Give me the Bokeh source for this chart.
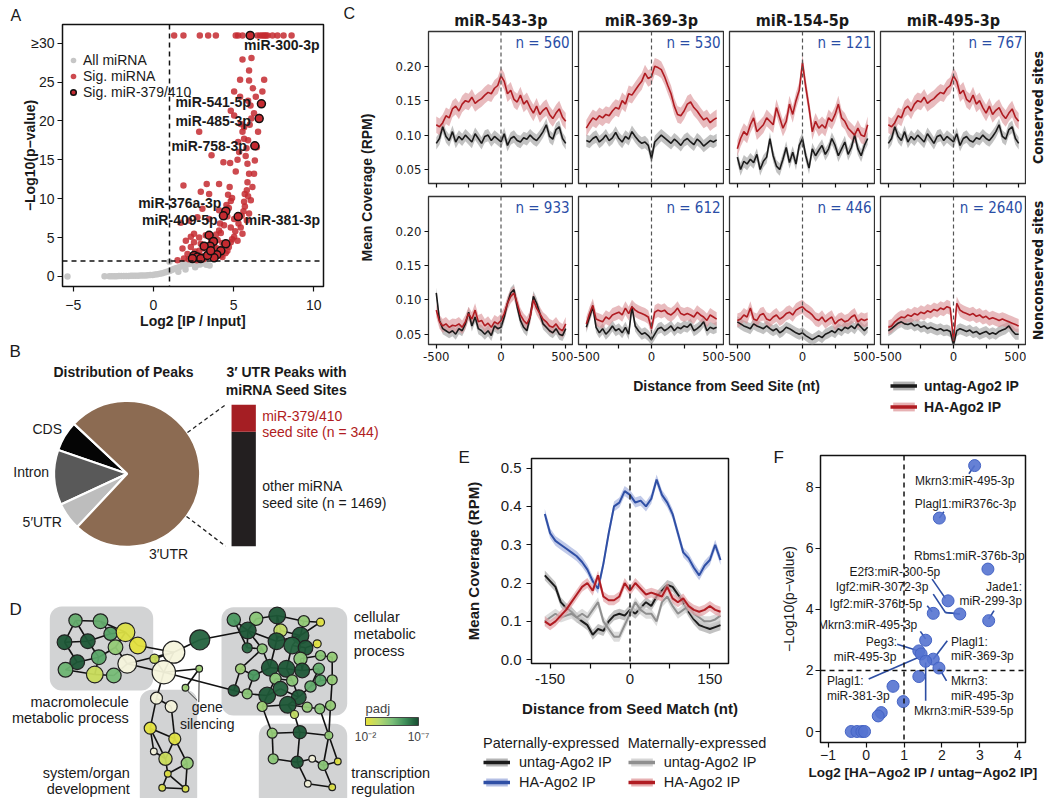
import numpy as np
from bokeh.plotting import figure
from bokeh.models import (Range1d, Label, Span, Legend, LegendItem, ColumnDataSource,
                          BoxAnnotation, LinearColorMapper, ColorBar, FixedTicker,
                          PrintfTickFormatter)
from bokeh.layouts import row, column
from bokeh.embed import file_html
from bokeh.resources import INLINE
from bokeh.core.properties import value

SANS = "Liberation Sans"
NARROW = "'Liberation Sans Narrow', 'DejaVu Sans Condensed', 'Liberation Sans'"
INK = "#1a1a1a"

# ====================== DATA ======================
# --- A: volcano plot ---
ALL_X = [-5.36, -3.05, -2.75, -2.6, -2.45, -2.3, -2.15, -2.0, -1.85, -1.7, -1.55, -1.4, -1.25, -1.1,
         -0.95, -0.8, -0.65, -0.5, -0.35, -0.2, -0.05, 0.1, 0.25, 0.4, 0.55, 0.7, 0.85, 1.0, 1.1, 1.2,
         1.3, 1.45, 1.6, 1.75, 1.9, 2.05, 2.2, 2.35, 2.5, 2.7, 2.9, 3.1, 3.3, 3.5, 1.55, 2.0, 2.6, 3.0,
         1.0, 1.85]
ALL_Y = [0, 0.02, 0.03, 0.03, 0.04, 0.04, 0.05, 0.05, 0.06, 0.06, 0.07, 0.08, 0.08, 0.09,
         0.1, 0.11, 0.12, 0.14, 0.16, 0.18, 0.2, 0.25, 0.3, 0.35, 0.4, 0.5, 0.6, 0.7, 0.8, 0.9,
         1.0, 1.1, 1.2, 1.3, 1.4, 1.5, 1.6, 1.7, 1.6, 1.5, 1.55, 1.7, 1.5, 1.4, 0.6, 0.9, 1.2, 1.8,
         1.9, 1.75]
SIG_X = [1.29, 1.87, 2.89, 3.41, 3.89, 5.13, 5.28, 5.55, 6.48, 6.65, 6.79, 6.90, 7.00, 7.11, 7.42, 7.73, 8.11, 8.61,
         5.55, 6.11, 5.96, 5.40, 5.96, 6.90, 5.03, 5.40, 5.90, 4.82, 5.03, 5.44, 5.65, 5.55, 2.85, 5.65, 5.90, 5.28,
         3.62, 5.34, 5.24, 4.36, 4.78, 5.86, 5.13, 5.96, 1.87, 3.32, 4.09, 5.86, 5.82, 2.95, 3.47, 5.69, 4.82, 5.65,
         3.05, 5.61, 4.09, 2.22, 1.70, 2.74, 3.47, 5.03, 4.82, 4.09, 2.53, 2.33, 2.85, 3.26, 5.03, 2.02, 2.53, 2.95,
         3.47, 4.30, 1.81, 2.33, 2.85, 3.37, 3.99, 4.82, 2.12, 2.95, 3.78, 1.50, 2.43, 3.16, 4.20, 4.61, 5.24, 5.55,
         5.44, 5.82, 5.96, 6.07, 6.17, 6.27, 6.32, 6.44, 6.52, 6.59, 6.65, 6.38, 6.79, 6.27,
         4.3, 4.5, 4.7, 4.9, 5.1, 5.3, 5.5, 5.7, 5.9, 3.6, 3.8, 4.0, 4.2, 4.4, 4.6, 4.7, 4.9, 3.1, 3.3, 3.5,
         2.7, 2.9, 1.9, 2.2, 2.6, 3.1, 3.6, 3.9, 4.15, 4.4, 4.55, 4.65, 4.75, 5.75, 5.8, 6.0, 6.1, 6.2, 6.05]
SIG_Y = [31, 31, 31, 31, 31, 31, 31, 31, 31, 31, 31, 31, 31, 31, 31, 31, 31, 31,
         27.9, 28.1, 26.5, 25.3, 25.2, 25.3, 23.8, 23.1, 22.6, 21.3, 20.7, 19.6, 19.2, 18.6, 18.6, 17.7, 17.5, 17.3,
         15.6, 16.0, 15.0, 14.7, 14.6, 14.5, 13.5, 13.2, 11.7, 11.9, 11.9, 12.1, 11.1, 10.9, 10.6, 10.6, 9.7, 9.6,
         8.7, 8.4, 8.5, 7.2, 6.9, 7.6, 7.4, 7.4, 6.3, 5.9, 5.5, 5.1, 5.0, 5.3, 5.1, 4.6, 4.4, 4.2,
         3.8, 4.3, 3.6, 3.8, 3.3, 2.9, 3.6, 4.4, 2.9, 2.7, 2.9, 2.1, 2.5, 2.3, 2.7, 3.3, 4.6, 5.5,
         6.3, 7.2, 8.1, 9.8, 11.5, 13.2, 14.9, 16.6, 18.6, 20.5, 22.2, 23.1, 23.8, 21.0,
         2.5, 3.0, 3.8, 4.8, 5.8, 6.8, 7.8, 9.0, 10.3, 3.2, 3.9, 4.7, 5.6, 6.6, 7.7, 8.8, 10.1, 2.2, 2.6, 3.0,
         2.1, 2.4, 2.3, 2.2, 3.2, 3.6, 4.6, 5.4, 6.8, 8.0, 9.2, 10.5, 11.5, 15.5, 16.5, 19.5, 20.3, 24.2, 22.0]
FAM_X = [6.03, 6.73, 6.59, 6.32, 4.51, 4.36, 5.28, 3.47, 3.74, 3.53, 3.16, 4.51, 4.20, 3.95, 3.78, 2.53,
         2.74, 2.95, 2.43, 3.37, 3.57]
FAM_Y = [31.0, 22.2, 20.3, 16.8, 8.4, 7.8, 7.7, 5.3, 4.5, 3.9, 3.9, 4.2, 3.3, 2.8, 2.4, 2.7,
         2.5, 2.3, 2.3, 2.7, 3.3]
A_LABELS = ["miR-300-3p", "miR-541-5p", "miR-485-3p", "miR-758-3p", "miR-376a-3p", "miR-409-5p", "miR-381-3p"]
A_LABEL_X = [8.0, 3.72, 3.72, 3.47, 1.64, 1.64, 8.04]
A_LABEL_Y = [29.8, 22.4, 20.0, 16.8, 9.4, 7.3, 7.3]

# --- B: peak distribution ---
PEAK_CATS = ["CDS", "Intron", "5\u2032UTR", "3\u2032UTR"]
PEAK_PCT = [6.7, 12.2, 6.1, 75.0]
PEAK_COLORS = ["#050505", "#595959", "#bdbdbd", "#8c6b52"]
SEED_CATS = ["other miRNA seed site", "miR-379/410 seed site"]
SEED_COUNTS = [1469, 344]
SEED_COLORS = ["#231f20", "#a51e23"]

# --- C: coverage around seed sites ---
C_TITLES = ["miR-543-3p", "miR-369-3p", "miR-154-5p", "miR-495-3p"]
C_N_CONS = [560, 530, 121, 767]
C_N_NONC = [933, 612, 446, 2640]
C_DIST = list(range(-500, 501, 25))
R543_CONS = [0.115, 0.112, 0.118, 0.128, 0.125, 0.138, 0.142, 0.135, 0.145, 0.150, 0.148, 0.155, 0.146, 0.150,
             0.153, 0.158, 0.162, 0.160, 0.168, 0.172, 0.186, 0.178, 0.160, 0.165, 0.152, 0.148, 0.158, 0.145,
             0.150, 0.140, 0.132, 0.142, 0.130, 0.136, 0.140, 0.130, 0.124, 0.132, 0.138, 0.126, 0.120]
K543_CONS = [0.088, 0.095, 0.112, 0.098, 0.092, 0.105, 0.090, 0.098, 0.093, 0.100, 0.095, 0.090, 0.102, 0.095,
             0.088, 0.098, 0.100, 0.092, 0.098, 0.094, 0.090, 0.102, 0.085, 0.095, 0.098, 0.092, 0.090, 0.096,
             0.094, 0.100, 0.095, 0.092, 0.098, 0.105, 0.115, 0.098, 0.094, 0.108, 0.112, 0.095, 0.088]
R369_CONS = [0.110, 0.118, 0.125, 0.122, 0.128, 0.125, 0.130, 0.128, 0.135, 0.140, 0.138, 0.150, 0.145, 0.160,
             0.158, 0.165, 0.172, 0.178, 0.190, 0.182, 0.185, 0.200, 0.198, 0.195, 0.185, 0.172, 0.160, 0.142,
             0.130, 0.128, 0.135, 0.145, 0.148, 0.140, 0.135, 0.128, 0.122, 0.125, 0.118, 0.122, 0.125]
K369_CONS = [0.092, 0.090, 0.095, 0.098, 0.090, 0.094, 0.100, 0.092, 0.096, 0.104, 0.095, 0.090, 0.098, 0.094,
             0.105, 0.098, 0.092, 0.088, 0.090, 0.085, 0.066, 0.090, 0.095, 0.100, 0.096, 0.092, 0.088, 0.094,
             0.090, 0.085, 0.092, 0.095, 0.090, 0.086, 0.094, 0.090, 0.084, 0.088, 0.092, 0.090, 0.093]
R154_CONS = [0.080, 0.095, 0.105, 0.100, 0.115, 0.125, 0.105, 0.110, 0.115, 0.125, 0.120, 0.115, 0.140, 0.125,
             0.110, 0.120, 0.145, 0.130, 0.150, 0.165, 0.205, 0.170, 0.140, 0.105, 0.120, 0.110, 0.115, 0.110,
             0.125, 0.120, 0.130, 0.145, 0.125, 0.120, 0.110, 0.105, 0.100, 0.110, 0.100, 0.098, 0.115]
K154_CONS = [0.068, 0.050, 0.062, 0.058, 0.065, 0.060, 0.072, 0.050, 0.062, 0.068, 0.095, 0.070, 0.055, 0.050,
             0.065, 0.082, 0.060, 0.075, 0.058, 0.085, 0.095, 0.070, 0.052, 0.080, 0.070, 0.078, 0.085, 0.072,
             0.080, 0.095, 0.085, 0.070, 0.080, 0.090, 0.072, 0.082, 0.100, 0.080, 0.070, 0.085, 0.095]
R495_CONS = R543_CONS
K495_CONS = K543_CONS
R543_NONC = [0.085, 0.068, 0.062, 0.065, 0.060, 0.063, 0.062, 0.065, 0.060, 0.068, 0.080, 0.072, 0.085, 0.068,
             0.070, 0.062, 0.066, 0.060, 0.068, 0.065, 0.070, 0.080, 0.095, 0.105, 0.110, 0.095, 0.078, 0.070,
             0.065, 0.075, 0.100, 0.088, 0.080, 0.072, 0.068, 0.062, 0.060, 0.065, 0.058, 0.055, 0.065]
K543_NONC = [0.110, 0.070, 0.058, 0.055, 0.052, 0.055, 0.050, 0.058, 0.055, 0.065, 0.082, 0.062, 0.075, 0.058,
             0.055, 0.050, 0.055, 0.048, 0.062, 0.058, 0.060, 0.075, 0.095, 0.110, 0.115, 0.090, 0.070, 0.060,
             0.055, 0.075, 0.105, 0.095, 0.080, 0.065, 0.060, 0.055, 0.052, 0.058, 0.050, 0.048, 0.058]
R369_NONC = [0.065, 0.080, 0.092, 0.072, 0.070, 0.068, 0.075, 0.072, 0.078, 0.080, 0.082, 0.078, 0.088, 0.080,
             0.090, 0.085, 0.082, 0.080, 0.078, 0.075, 0.058, 0.082, 0.085, 0.083, 0.085, 0.080, 0.078, 0.082,
             0.088, 0.080, 0.078, 0.080, 0.078, 0.075, 0.082, 0.078, 0.075, 0.070, 0.078, 0.075, 0.072]
K369_NONC = [0.060, 0.075, 0.090, 0.060, 0.052, 0.058, 0.050, 0.055, 0.062, 0.055, 0.058, 0.052, 0.060, 0.050,
             0.090, 0.062, 0.055, 0.050, 0.052, 0.048, 0.042, 0.050, 0.058, 0.060, 0.055, 0.058, 0.062, 0.055,
             0.060, 0.058, 0.062, 0.060, 0.065, 0.055, 0.058, 0.062, 0.068, 0.055, 0.060, 0.058, 0.060]
R154_NONC = [0.070, 0.072, 0.078, 0.075, 0.088, 0.072, 0.070, 0.078, 0.080, 0.072, 0.070, 0.075, 0.078, 0.072,
             0.075, 0.080, 0.082, 0.078, 0.085, 0.088, 0.090, 0.085, 0.082, 0.078, 0.072, 0.070, 0.075, 0.068,
             0.072, 0.075, 0.065, 0.070, 0.072, 0.068, 0.070, 0.075, 0.078, 0.068, 0.072, 0.070, 0.072]
K154_NONC = [0.068, 0.065, 0.062, 0.060, 0.058, 0.065, 0.062, 0.060, 0.058, 0.062, 0.058, 0.055, 0.058, 0.052,
             0.055, 0.060, 0.058, 0.055, 0.052, 0.050, 0.052, 0.048, 0.045, 0.042, 0.045, 0.048, 0.045, 0.050,
             0.052, 0.055, 0.052, 0.058, 0.055, 0.060, 0.058, 0.062, 0.058, 0.065, 0.060, 0.055, 0.060]
R495_NONC = [0.060, 0.062, 0.068, 0.072, 0.075, 0.074, 0.078, 0.076, 0.080, 0.078, 0.082, 0.080, 0.084, 0.082,
             0.086, 0.084, 0.088, 0.086, 0.090, 0.088, 0.040, 0.095, 0.085, 0.082, 0.080, 0.078, 0.080, 0.076,
             0.078, 0.074, 0.076, 0.072, 0.074, 0.072, 0.070, 0.072, 0.070, 0.068, 0.066, 0.064, 0.062]
K495_NONC = [0.055, 0.058, 0.062, 0.066, 0.068, 0.065, 0.064, 0.066, 0.062, 0.064, 0.060, 0.062, 0.058, 0.060,
             0.058, 0.056, 0.058, 0.055, 0.056, 0.054, 0.035, 0.055, 0.058, 0.056, 0.054, 0.056, 0.052, 0.054,
             0.050, 0.052, 0.054, 0.050, 0.052, 0.050, 0.054, 0.056, 0.058, 0.062, 0.055, 0.050, 0.050]
C_RED = [[R543_CONS, R369_CONS, R154_CONS, R495_CONS], [R543_NONC, R369_NONC, R154_NONC, R495_NONC]]
C_BLK = [[K543_CONS, K369_CONS, K154_CONS, K495_CONS], [K543_NONC, K369_NONC, K154_NONC, K495_NONC]]
C_SE_RED = [0.012, 0.010]
C_SE_BLK = [0.009, 0.008]

# --- D: GO network ---
D_NX = [75.0, 100.0, 64.0, 87.3, 110.0, 125.0, 137.3, 115.0, 76.7, 98.3, 65.0, 94.3, 113.3, 126.7,
        173.3, 163.3, 154.0, 199.3, 198.7, 185.0,
        156.0, 170.7, 149.7, 174.3, 153.3, 165.0, 186.7, 167.3, 161.7, 185.0,
        233.3, 255.7, 276.7, 303.3, 320.0, 247.3, 280.0, 246.7, 276.0, 300.0, 291.7, 305.0, 316.7, 261.7,
        300.0, 320.0, 331.7, 240.0, 269.3, 286.0, 301.7, 318.3, 253.3, 275.0, 291.7, 320.0, 331.7, 233.3,
        246.7, 266.7, 280.0, 298.3, 310.0, 261.7, 287.3, 306.7, 319.3, 330.0, 294.0,
        271.7, 299.3, 328.3, 272.7, 296.7, 311.7, 322.7, 337.3, 307.3, 331.7]
D_NY = [70.0, 70.7, 91.7, 90.7, 83.3, 81.7, 95.0, 96.7, 111.7, 106.7, 119.3, 124.0, 125.0, 113.3,
        101.7, 121.7, 108.3, 89.3, 118.3, 137.3,
        147.7, 156.0, 177.7, 188.3, 201.0, 208.3, 212.7, 223.3, 237.3, 238.3,
        69.3, 68.3, 65.0, 70.7, 71.7, 80.0, 80.0, 97.3, 90.7, 85.0, 95.0, 97.3, 93.3, 98.3,
        108.3, 105.0, 106.7, 118.3, 117.3, 118.3, 120.0, 118.3, 125.0, 128.3, 130.0, 130.0, 129.3, 140.0,
        143.3, 145.0, 138.3, 146.7, 136.0, 156.0, 154.3, 156.7, 158.3, 155.0, 164.0,
        182.7, 181.7, 185.0, 208.3, 211.7, 208.3, 215.0, 211.0, 233.3, 236.7]
D_SIZE = [13.3, 14.7, 14.7, 14.7, 13.3, 18.7, 16.7, 14.7, 14.7, 14.7, 14.7, 16.7, 14.7, 18.7,
          22, 23.3, 9.3, 20, 6.7, 6.7,
          12, 12, 12, 12, 6.7, 13.3, 12, 6.7, 6.7, 6.7,
          13.3, 13.3, 16.7, 11.3, 8, 16.7, 13.3, 10, 16.7, 16.7, 16.7, 14.7, 8, 10,
          13.3, 10, 10, 10, 16.7, 16.7, 14.7, 11.3, 11.3, 11.3, 11.3, 11.3, 10, 11.3,
          10, 16.7, 14.7, 14.7, 11.3, 10, 16.7, 10, 10, 10, 8,
          10, 13.3, 8, 10, 12, 6.7, 10, 6.7, 6.7, 6.7]
D_NEGLOG_PADJ = [5.0, 5.0, 6.8, 6.8, 5.3, 2.3, 2.1, 4.0, 6.8, 5.2, 4.8, 2.8, 4.6, 1.5,
                 1.4, 1.3, 2.8, 6.6, 3.8, 3.8,
                 1.4, 1.4, 2.1, 2.2, 1.5, 2.8, 4.0, 2.2, 2.3, 2.4,
                 5.5, 4.2, 6.8, 4.0, 2.2, 6.8, 3.0, 6.5, 6.8, 6.8, 6.6, 6.8, 2.2, 4.2,
                 4.2, 4.2, 4.0, 3.8, 6.8, 6.8, 6.8, 5.0, 5.5, 4.2, 4.2, 5.2, 4.0, 6.8,
                 4.2, 6.8, 6.6, 6.8, 5.0, 3.8, 6.8, 4.0, 4.2, 4.0, 3.0,
                 4.0, 6.8, 4.0, 4.2, 6.8, 1.5, 4.2, 2.2, 1.5, 2.3]
D_EDGES = [(1, 2), (1, 3), (2, 5), (3, 4), (3, 9), (4, 10), (4, 5), (9, 11), (9, 10), (10, 12), (11, 12),
           (12, 13), (13, 14), (10, 8), (8, 6), (6, 7), (7, 15), (14, 15), (14, 16), (5, 6), (8, 14), (2, 6),
           (1, 4), (15, 16), (15, 17), (16, 17), (15, 18), (16, 19), (16, 21), (18, 36), (19, 20), (16, 58),
           (21, 22), (21, 23), (22, 24), (23, 24), (23, 25), (23, 26), (24, 26), (24, 27), (25, 26), (26, 28),
           (27, 28), (28, 29), (28, 30), (29, 30), (27, 30),
           (31, 36), (32, 36), (32, 33), (33, 37), (33, 34), (34, 35), (36, 38), (36, 39), (37, 39), (39, 40),
           (40, 41), (41, 42), (42, 43), (40, 35), (38, 44), (44, 49), (39, 49), (41, 50), (42, 51), (45, 46),
           (46, 47), (47, 57), (51, 52), (52, 56), (48, 53), (53, 49), (49, 50), (50, 51), (48, 58), (58, 59),
           (59, 60), (60, 61), (61, 62), (62, 63), (63, 56), (56, 57), (54, 60), (55, 62), (60, 64), (64, 65),
           (65, 66), (66, 67), (67, 68), (68, 57), (65, 69), (62, 65), (53, 59), (54, 55), (44, 48), (45, 51),
           (50, 55), (33, 39), (37, 40), (34, 40), (52, 63), (31, 38), (36, 44),
           (64, 70), (69, 71), (68, 72), (70, 71), (71, 72), (70, 73), (71, 74), (72, 76), (73, 74), (74, 75),
           (75, 76), (76, 77), (74, 78), (76, 79), (78, 79), (72, 77), (67, 72)]
D_BOXES = [(49.3, 152.7, 56.0, 140.0), (221.0, 346.7, 56.7, 165.0),
           (139.3, 196.7, 139.3, 258.0), (258.3, 346.7, 173.3, 258.0)]

# --- E: coverage around seed matches ---
E_DIST = list(range(-160, 171, 10))
E_PAT_UNTAG = [0.22, 0.205, 0.19, 0.15, 0.135, 0.125, 0.11, 0.10, 0.09, 0.065, 0.08, 0.075, 0.10, 0.115,
               0.12, 0.115, 0.13, 0.12, 0.135, 0.15, 0.14, 0.165, 0.18, 0.195, 0.19, 0.17, 0.15, 0.125,
               0.105, 0.09, 0.085, 0.08, 0.085, 0.09]
E_PAT_HA = [0.38, 0.33, 0.31, 0.30, 0.29, 0.28, 0.27, 0.255, 0.235, 0.205, 0.185, 0.25, 0.33, 0.40,
            0.41, 0.44, 0.43, 0.41, 0.415, 0.40, 0.42, 0.47, 0.43, 0.41, 0.38, 0.33, 0.28, 0.265,
            0.24, 0.22, 0.245, 0.26, 0.30, 0.26]
E_MAT_UNTAG = [0.10, 0.11, 0.12, 0.11, 0.115, 0.12, 0.11, 0.12, 0.11, 0.13, 0.15, 0.10, 0.08, 0.06,
               0.06, 0.09, 0.12, 0.15, 0.13, 0.12, 0.12, 0.10, 0.15, 0.165, 0.14, 0.12, 0.13, 0.14,
               0.12, 0.11, 0.10, 0.10, 0.105, 0.115]
E_MAT_HA = [0.10, 0.09, 0.10, 0.115, 0.13, 0.15, 0.17, 0.19, 0.20, 0.18, 0.22, 0.165, 0.155, 0.155,
            0.165, 0.20, 0.18, 0.20, 0.185, 0.17, 0.175, 0.17, 0.165, 0.19, 0.16, 0.15, 0.16, 0.14,
            0.13, 0.125, 0.13, 0.14, 0.13, 0.125]
E_SE = 0.013

# --- F: enrichment scatter ---
F_X = [2.86, 1.93, 3.21, 2.16, 2.47, 1.77, 3.23, 1.57, 1.39, 1.45, 1.77, 1.57, 1.92, 1.39, 0.71, 0.98,
       0.40, 0.32, -0.39, -0.24, -0.11, -0.04]
F_Y = [8.71, 6.99, 5.32, 4.28, 3.85, 3.87, 3.63, 2.99, 2.64, 2.54, 2.37, 2.30, 2.08, 1.80, 1.48, 0.98,
       0.62, 0.51, 0, 0, 0, 0]
F_LBL_C = ["Mkrn3:miR-495-3p", "Plagl1:miR376c-3p", "Rbms1:miR-376b-3p", "E2f3:miR-300-5p",
           "Igf2:miR-3072-3p", "Igf2:miR-376b-5p", "Mkrn3:miR-495-3p", "Mkrn3:miR-539-5p"]
F_LBL_C_X = [2.60, 2.62, 2.72, 0.76, 0.42, 0.26, 0.04, 2.57]
F_LBL_C_Y = [8.22, 7.45, 5.76, 5.21, 4.74, 4.17, 3.50, 0.66]
F_LBL_R = ["Jade1:", "miR-299-3p", "Peg3:", "miR-495-3p"]
F_LBL_R_X = [4.11, 4.11, 0.82, 0.80]
F_LBL_R_Y = [4.72, 4.26, 2.92, 2.45]
F_LBL_L = ["Plagl1:", "miR-369-3p", "Plagl1:", "miR-381-3p", "Mkrn3:", "miR-495-3p"]
F_LBL_L_X = [2.24, 2.24, -1.03, -1.03, 2.24, 2.24]
F_LBL_L_Y = [2.92, 2.48, 1.66, 1.17, 1.66, 1.17]
F_LEAD_X0 = [2.71, 2.05, 1.74, 1.77, 2.09, 1.61, 3.37, 1.43, 0.82, 2.14, 0.07, 1.57, 2.12]
F_LEAD_Y0 = [8.44, 7.20, 4.99, 4.50, 3.90, 4.12, 3.96, 3.28, 2.86, 2.97, 1.72, 1.01, 1.66]
F_LEAD_X1 = [2.86, 1.93, 2.09, 2.09, 2.47, 1.74, 3.23, 1.57, 1.39, 1.77, 1.48, 1.57, 1.92]
F_LEAD_Y1 = [8.71, 6.99, 4.36, 3.90, 3.85, 3.92, 3.68, 3.03, 2.64, 2.37, 2.48, 2.26, 2.08]


# ====================== HELPERS ======================
def base_fig(w, h, xr, yr, l=0, r=0, t=0, b=0, axes=True, outline=True):
    kw = {}
    if not axes:
        kw = dict(x_axis_type=None, y_axis_type=None)
    p = figure(width=w, height=h, x_range=Range1d(*xr), y_range=Range1d(*yr),
               output_backend="svg", toolbar_location=None,
               min_border_left=l, min_border_right=r, min_border_top=t, min_border_bottom=b, **kw)
    p.frame_align = False
    p.background_fill_color = None
    p.border_fill_color = None
    if axes:
        p.xgrid.grid_line_color = None
        p.ygrid.grid_line_color = None
    p.outline_line_color = "#111111" if outline else None
    p.outline_line_width = 1.5
    return p


def style_axis(ax, font=SANS, size="14px", label_size="14px", tick_out=5, standoff=4, lstandoff=6):
    ax.axis_line_color = None
    ax.major_tick_out = tick_out
    ax.major_tick_in = 0
    ax.minor_tick_out = tick_out
    ax.minor_tick_in = 0
    ax.major_tick_line_color = "#111111"
    ax.minor_tick_line_color = "#111111"
    ax.major_tick_line_width = 1.2
    ax.minor_tick_line_width = 1.2
    ax.major_label_text_font = font
    ax.major_label_text_font_size = size
    ax.major_label_text_color = INK
    ax.major_label_standoff = standoff
    ax.axis_label_text_font = font
    ax.axis_label_text_font_size = label_size
    ax.axis_label_text_font_style = "bold"
    ax.axis_label_text_color = INK
    ax.axis_label_standoff = lstandoff


def lab(p, x, y, text, size="14px", font=SANS, style="normal", color=INK, align="left",
        baseline="middle", angle=0):
    p.add_layout(Label(x=x, y=y, text=text, text_font=font, text_font_size=size,
                       text_font_style=style, text_color=color, text_align=align,
                       text_baseline=baseline, angle=angle, angle_units="deg"))


def letter(p, text, offset, size="17px", standoff=2):
    p.title.text = text
    p.title.align = "left"
    p.title.offset = offset
    p.title.text_font = SANS
    p.title.text_font_size = size
    p.title.text_font_style = "normal"
    p.title.text_color = INK
    p.title.standoff = standoff


def empty_legend_renderers(p, specs):
    src = ColumnDataSource(dict(x=[0, 1], y=[-1000, -1000], y1=[-1001, -1001], y2=[-999, -999]))
    out = []
    for fc, lc in specs:
        bnd = p.varea(x="x", y1="y1", y2="y2", source=src, fill_color=fc, fill_alpha=0.85)
        ln = p.line(x="x", y="y", source=src, line_color=lc, line_width=3.5)
        out.append([bnd, ln])
    return out


# ====================== PANEL A ======================
AXR, AYR = (-5.67, 10.6), (-1.29, 32.4)
pA = base_fig(340, 338, AXR, AYR, l=62, r=17, t=24, b=52)
letter(pA, "A", -52, size="16px", standoff=2)
pA.add_layout(Span(location=1, dimension="height", line_color="#111111", line_dash="5 4", line_width=1.5))
pA.add_layout(Span(location=2, dimension="width", line_color="#111111", line_dash="5 4", line_width=1.5))
r_all = pA.scatter(ALL_X, ALL_Y, size=6.5, fill_color="#c6c6c6", line_color=None)
r_sig = pA.scatter(SIG_X, SIG_Y, size=6.5, fill_color="#c42a30", fill_alpha=0.85, line_color=None)
r_fam = pA.scatter(FAM_X, FAM_Y, size=8, fill_color="#c42a30", line_color="#111111", line_width=1.5)
pA.text(A_LABEL_X, A_LABEL_Y, text=A_LABELS, text_font=value(SANS), text_font_size="14px",
        text_font_style="bold", text_align="center", text_baseline="middle", text_color=INK)
for ax in pA.axis:
    style_axis(ax, size="14px", standoff=3, lstandoff=2)
pA.xaxis.ticker = FixedTicker(ticks=[-5, 0, 5, 10])
pA.xaxis.major_label_overrides = {-5: "\u22125"}
pA.xaxis.major_label_standoff = 8
pA.xaxis.axis_label_standoff = 0
pA.xaxis.axis_label = "Log2 [IP / Input]"
pA.yaxis.ticker = FixedTicker(ticks=[0, 5, 10, 15, 20, 25, 30])
pA.yaxis.major_label_overrides = {30: "\u226530"}
pA.yaxis.axis_label = "\u2212Log10(p\u2212value)"
pA.yaxis.axis_label_standoff = -10
legA = Legend(items=[LegendItem(label="All miRNA", renderers=[r_all]),
                     LegendItem(label="Sig. miRNA", renderers=[r_sig]),
                     LegendItem(label="Sig. miR-379/410", renderers=[r_fam])],
              location=(4, 186), padding=0, margin=0, spacing=0, glyph_width=14, glyph_height=14,
              label_height=14, label_standoff=3, label_text_font=SANS, label_text_font_size="14px",
              label_text_color=INK, background_fill_alpha=0, border_line_color=None)
pA.add_layout(legA)

# ====================== PANEL C ======================
C_XR = (-560, 560)
C_YR = [(0.0297, 0.2504), (0.035, 0.2504)]
C_XT = [-500, 0, 500]
C_XT_MINOR = [-250, 250]
C_YT = [0.05, 0.10, 0.15, 0.20]


def c_panel(ci, ri):
    w = [181, 151, 151, 151][ci]
    l = [35, 5, 5, 5][ci]
    if ri == 0:
        h, t, b = 190, 31, 7
        n = C_N_CONS[ci]
    else:
        h, t, b = 178, 6, 24
        n = C_N_NONC[ci]
    yr = C_YR[ri]
    red = np.array(C_RED[ri][ci])
    blk = np.array(C_BLK[ri][ci])
    p = base_fig(w, h, C_XR, yr, l=l, r=0, t=t, b=b)
    p.outline_line_color = "#333333"
    p.outline_line_width = 1.3
    p.varea(x=C_DIST, y1=blk - C_SE_BLK[ri], y2=blk + C_SE_BLK[ri], fill_color="#9a9a9a", fill_alpha=0.6)
    p.varea(x=C_DIST, y1=red - C_SE_RED[ri], y2=red + C_SE_RED[ri], fill_color="#d98e92", fill_alpha=0.6)
    p.line(C_DIST, blk, line_color="#1b1b1b", line_width=1.6)
    p.line(C_DIST, red, line_color="#b01c22", line_width=1.6)
    p.add_layout(Span(location=0, dimension="height", line_color="#555555", line_dash="4 3", line_width=1.2))
    for ax in p.axis:
        style_axis(ax, font=NARROW, size="13px", tick_out=4, standoff=3)
    xa, ya = p.xaxis[0], p.yaxis[0]
    if ri == 0:
        xa.ticker = FixedTicker(ticks=[], minor_ticks=C_XT + C_XT_MINOR)
        xa.major_label_standoff = 0
        p.title.text = C_TITLES[ci]
        p.title.align = "center"
        p.title.text_font = NARROW
        p.title.text_font_size = "16px"
        p.title.text_font_style = "bold"
        p.title.text_color = INK
        p.title.standoff = 3
    else:
        xa.ticker = FixedTicker(ticks=C_XT, minor_ticks=C_XT_MINOR)
        xa.major_label_overrides = {-500: "-500", 0: "0", 500: "500"}
    if ci > 0:
        ya.ticker = FixedTicker(ticks=[], minor_ticks=C_YT)
        ya.major_label_standoff = 0
    else:
        ya.ticker = FixedTicker(ticks=C_YT)
        ya.formatter = PrintfTickFormatter(format="%.2f")
    lab(p, C_XR[1] - 30, yr[1] - 0.003, f"n = {n}", size="15px", font=NARROW, color="#2a4ea6",
        align="right", baseline="top")
    return p


top_row = row(*[c_panel(i, 0) for i in range(4)])
bot_row = row(*[c_panel(i, 1) for i in range(4)])

pCL = base_fig(52, 418, (340, 392), (0, 418), axes=False, outline=False)
lab(pCL, 343, 418 - 13, "C", size="16px")
lab(pCL, 366, 418 - 187, "Mean Coverage (RPM)", style="bold", align="center", angle=90)

pCR = base_fig(22, 368, (1026, 1048), (0, 368), axes=False, outline=False)
lab(pCR, 1037, 368 - 107, "Conserved sites", size="14px", font=NARROW, style="bold", align="center", angle=90)
lab(pCR, 1037, 368 - 270, "Nonconserved sites", size="14px", font=NARROW, style="bold", align="center", angle=90)

pS = base_fig(656, 50, (392, 1048), (0, 50), axes=False, outline=False)
lab(pS, 726, 418 - 385.7, "Distance from Seed Site (nt)", style="bold", align="center")
cr = empty_legend_renderers(pS, [("#a6a6a6", "#1b1b1b"), ("#e3a3a6", "#b01c22")])
legC = Legend(items=[LegendItem(label="untag-Ago2 IP", renderers=cr[0]),
                     LegendItem(label="HA-Ago2 IP", renderers=cr[1])],
              location=(498, 3), padding=0, margin=0, spacing=4, glyph_width=27, glyph_height=11,
              label_height=17, label_standoff=7, label_text_font=SANS, label_text_font_size="14px",
              label_text_font_style="bold", label_text_color=INK, background_fill_alpha=0,
              border_line_color=None)
pS.add_layout(legC)

C_block = row(pCL, column(row(column(top_row, bot_row), pCR), pS))

# ====================== PANEL B ======================
pB = base_fig(440, 237, (0, 440), (225, 462), axes=False, outline=False)
PIE_CX, PIE_CY, PIE_R = 126.7, 326.7, 73
PIE_START = np.deg2rad(136.8)
pct = np.array(PEAK_PCT)
frac = np.concatenate([[0], np.cumsum(pct)]) / pct.sum()
pie_src = ColumnDataSource(dict(x=[PIE_CX] * 4, y=[PIE_CY] * 4,
                                start=PIE_START + 2 * np.pi * frac[:-1],
                                end=PIE_START + 2 * np.pi * frac[1:], color=PEAK_COLORS))
pB.wedge(x="x", y="y", radius=PIE_R, start_angle="start", end_angle="end", fill_color="color",
         line_color="white", line_width=2.2, source=pie_src)
BAR_X, BAR_W, BAR_Y0, BAR_H = 243.2, 24.3, 254.3, 141.4
tot = float(sum(SEED_COUNTS))
pB.extra_y_ranges = {"cnt": Range1d((225 - BAR_Y0) / BAR_H * tot, (462 - BAR_Y0) / BAR_H * tot)}
cum = np.concatenate([[0], np.cumsum(SEED_COUNTS)])
pB.vbar(x=[BAR_X, BAR_X], width=BAR_W, bottom=cum[:-1], top=cum[1:], fill_color=SEED_COLORS,
        line_color=None, y_range_name="cnt")
for ang, yb in ((np.deg2rad(34.4), BAR_Y0 + BAR_H), (np.deg2rad(-35.7), BAR_Y0)):
    pB.line([PIE_CX + PIE_R * np.cos(ang), BAR_X - BAR_W / 2 - 6], [PIE_CY + PIE_R * np.sin(ang), yb],
            line_color="#222222", line_dash="4 3", line_width=1.3)
lab(pB, 9, 800 - 351, "B", size="17px")
lab(pB, 123, 800 - 371, "Distribution of Peaks", style="bold", align="center")
lab(pB, 286, 800 - 371, "3\u2032 UTR Peaks with", style="bold", align="center")
lab(pB, 286, 800 - 389, "miRNA Seed Sites", style="bold", align="center")
lab(pB, 261.7, 800 - 415, "miR-379/410", color="#b01c22")
lab(pB, 261.7, 800 - 431, "seed site (n = 344)", color="#b01c22")
lab(pB, 261.7, 800 - 485.7, "other miRNA")
lab(pB, 261.7, 800 - 502.7, "seed site (n = 1469)")
for txt, x, y in zip(PEAK_CATS, [46.7, 30.7, 41.7, 168.0], [428.3, 471.0, 521.7, 553.3]):
    lab(pB, x, 800 - y, txt, align="center")

# ====================== PANEL D ======================
pD = base_fig(440, 223, (0, 440), (248, 25), axes=False, outline=False)
for (bl, br, bt, bb) in D_BOXES:
    pD.add_layout(BoxAnnotation(left=bl, right=br, top=bt, bottom=bb, fill_color="#d2d3d4",
                                fill_alpha=1, line_color=None, border_radius=12, level="underlay"))
ei = [(a - 1, b - 1) for a, b in D_EDGES]
pD.segment(x0=[D_NX[a] for a, b in ei], y0=[D_NY[a] for a, b in ei],
           x1=[D_NX[b] for a, b in ei], y1=[D_NY[b] for a, b in ei], line_color="#111111", line_width=1.6)
pD.segment(x0=[198.3, 196.7], y0=[151.7, 150.0], x1=[198.7, 187.5], y1=[121.5, 141.0],
           line_color="#333333", line_width=1)


def hex2rgb(h):
    return [int(h[i:i + 2], 16) for i in (1, 3, 5)]


ANCH = ["#e8e23a", "#b7d96f", "#7cc07a", "#3f8f5a", "#174d31"]
PAL = []
for k in range(256):
    t = k / 255 * (len(ANCH) - 1)
    i = min(int(t), len(ANCH) - 2)
    f = t - i
    c0, c1 = hex2rgb(ANCH[i]), hex2rgb(ANCH[i + 1])
    PAL.append("#%02x%02x%02x" % tuple(int(round(c0[j] + (c1[j] - c0[j]) * f)) for j in range(3)))
mapper = LinearColorMapper(palette=PAL, low=2, high=7, low_color="#f6f4dc", high_color=PAL[-1])
node_src = ColumnDataSource(dict(x=D_NX, y=D_NY, size=D_SIZE, c=D_NEGLOG_PADJ))
pD.scatter(x="x", y="y", size="size", fill_color={"field": "c", "transform": mapper},
           line_color="#222222", line_width=1.2, fill_alpha=0.95, source=node_src)
lab(pD, 9, 59, "D", size="17px")
for txt, y in zip(["cellular", "metabolic", "process"], [66.7, 83.3, 100.0]):
    lab(pD, 353.3, y, txt, size="14.5px")
lab(pD, 128.3, 151.7, "macromolecule", size="14.5px", align="right")
lab(pD, 128.3, 167.7, "metabolic process", size="14.5px", align="right")
lab(pD, 129.3, 222.5, "system/organ", size="14.5px", align="right")
lab(pD, 129.3, 238.5, "development", size="14.5px", align="right")
lab(pD, 350.7, 222.5, "transcription", size="14.5px")
lab(pD, 350.7, 238.5, "regulation", size="14.5px")
lab(pD, 206.7, 156.7, "gene", size="14px", align="center")
lab(pD, 206.7, 173.3, "silencing", size="14px", align="center")
cb = ColorBar(color_mapper=mapper, orientation="horizontal", location=(365, 52), width=53, height=8,
              ticker=FixedTicker(ticks=[2, 7]), major_label_overrides={2: "10\u207b\u00b2", 7: "10\u207b\u2077"},
              title="padj", title_text_font=SANS, title_text_font_size="13px", title_text_font_style="normal",
              title_standoff=3, padding=0, major_tick_line_color=None, bar_line_color="#444444",
              border_line_color=None, background_fill_alpha=0, label_standoff=4,
              major_label_text_font=SANS, major_label_text_font_size="12px")
pD.add_layout(cb)

BD = column(pB, pD, margin=(-80, 0, 0, 0))

# ====================== PANEL E ======================
EXR, EYR = (-185, 185), (-0.01, 0.525)
pE = base_fig(332, 304, EXR, EYR, l=91, r=44, t=40, b=59)
letter(pE, "E", -73, size="17px", standoff=-16)
ed = np.array(E_DIST)
E_STYLE = [("#1b1b1b", "#a8a8a8"), ("#2f4fa5", "#a7b4df"), ("#8f8f8f", "#cfcfcf"), ("#b01c22", "#e3a3a6")]
for vals, (lc, fc) in zip([E_PAT_UNTAG, E_PAT_HA, E_MAT_UNTAG, E_MAT_HA], E_STYLE):
    v = np.array(vals)
    pE.varea(x=ed, y1=v - E_SE, y2=v + E_SE, fill_color=fc, fill_alpha=0.7)
    pE.line(ed, v, line_color=lc, line_width=2)
pE.add_layout(Span(location=0, dimension="height", line_color="#222222", line_dash="5 4", line_width=1.5))
for ax in pE.axis:
    style_axis(ax, size="15px", label_size="15px", standoff=5)
pE.xaxis.ticker = FixedTicker(ticks=[-150, 0, 150], minor_ticks=[-75, 75])
pE.xaxis.major_label_overrides = {-150: "-150", 0: "0", 150: "150"}
pE.xaxis.axis_label = "Distance from Seed Match (nt)"
pE.xaxis.axis_label_standoff = 13
pE.yaxis.ticker = FixedTicker(ticks=[0, 0.1, 0.2, 0.3, 0.4, 0.5])
pE.yaxis.formatter = PrintfTickFormatter(format="%.1f")
pE.yaxis.axis_label = "Mean Coverage (RPM)"
pE.yaxis.axis_label_standoff = 16

pEL = base_fig(332, 76, (440, 772), (0, 76), axes=False, outline=False)
er = empty_legend_renderers(pEL, [(fc, lc) for lc, fc in E_STYLE])
for title, rs, vx in (("Paternally-expressed", er[0:2], 43), ("Maternally-expressed", er[2:4], 187.7)):
    lg = Legend(items=[LegendItem(label="untag-Ago2 IP", renderers=rs[0]),
                       LegendItem(label="HA-Ago2 IP", renderers=rs[1])],
                location=(vx, 8), title=title, title_text_font=SANS, title_text_font_size="14.5px",
                title_text_font_style="normal", title_text_color=INK, title_standoff=3,
                padding=0, margin=0, spacing=4, glyph_width=27, glyph_height=10, label_height=16,
                label_standoff=9, label_text_font=SANS, label_text_font_size="14.5px", label_text_color=INK,
                background_fill_alpha=0, border_line_color=None)
    pEL.add_layout(lg)

# ====================== PANEL F ======================
FXR, FYR = (-1.2, 4.2), (-0.36, 9.04)
pF = base_fig(276, 380, FXR, FYR, l=48, r=23, t=37, b=56)
letter(pF, "F", -47, size="17px", standoff=-22)
pF.add_layout(Span(location=1, dimension="height", line_color="#111111", line_dash="5 4", line_width=1.5))
pF.add_layout(Span(location=2, dimension="width", line_color="#111111", line_dash="5 4", line_width=1.5))
pF.segment(x0=F_LEAD_X0, y0=F_LEAD_Y0, x1=F_LEAD_X1, y1=F_LEAD_Y1, line_color="#2c4da3", line_width=1.6)
pF.segment(x0=[2.09], y0=[3.90], x1=[2.47], y1=[3.85], line_color="#2c4da3", line_width=1.6)
pF.scatter(F_X, F_Y, size=12, fill_color="#5573d0", fill_alpha=0.9, line_color="#4463c4", line_width=1)
for txts, xs, ys, al in ((F_LBL_C, F_LBL_C_X, F_LBL_C_Y, "center"), (F_LBL_R, F_LBL_R_X, F_LBL_R_Y, "right"),
                         (F_LBL_L, F_LBL_L_X, F_LBL_L_Y, "left")):
    pF.text(xs, ys, text=txts, text_font=value(SANS), text_font_size="12px", text_align=al,
            text_baseline="middle", text_color=INK)
for ax in pF.axis:
    style_axis(ax, size="14px", label_size="13.5px", standoff=2, lstandoff=2)
pF.xaxis.ticker = FixedTicker(ticks=[-1, 0, 1, 2, 3, 4])
pF.xaxis.major_label_overrides = {-1: "\u22121"}
pF.xaxis.axis_label = "Log2 [HA\u2212Ago2 IP / untag\u2212Ago2 IP]"
pF.yaxis.ticker = FixedTicker(ticks=[0, 2, 4, 6, 8])
pF.yaxis.axis_label = "\u2212Log10(p\u2212value)"
pF.yaxis.axis_label_text_font_style = "normal"
pF.yaxis.axis_label_text_font_size = "14px"
pF.yaxis.axis_label_standoff = 6

# ====================== LAYOUT ======================
layout = column(row(pA, C_block), row(BD, column(pE, pEL), pF))
open("out.html", "w").write(file_html(layout, INLINE))
